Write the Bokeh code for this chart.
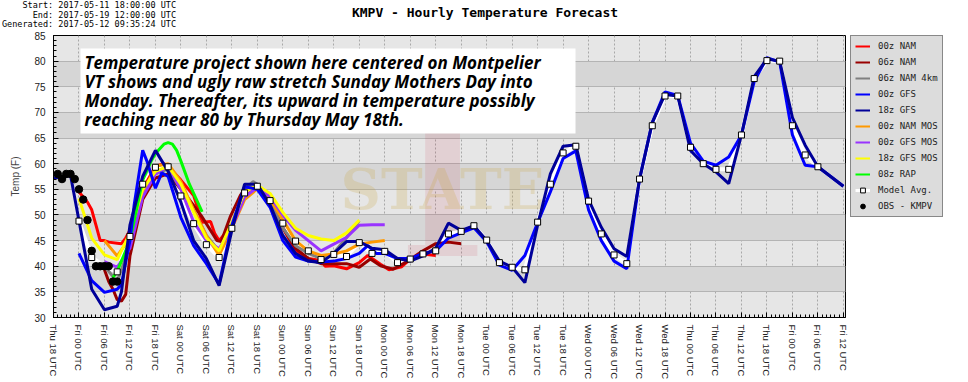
from bokeh.plotting import figure
from bokeh.layouts import column, row
from bokeh.models import Range1d, FixedTicker, Legend, LegendItem, Label, BoxAnnotation, Div
from bokeh.embed import file_html
from bokeh.resources import INLINE

# ---------------- data ----------------
tick_hours = list(range(0, 187, 6))
tick_labels = ["Thu 18 UTC", "Fri 00 UTC", "Fri 06 UTC", "Fri 12 UTC", "Fri 18 UTC",
               "Sat 00 UTC", "Sat 06 UTC", "Sat 12 UTC", "Sat 18 UTC",
               "Sun 00 UTC", "Sun 06 UTC", "Sun 12 UTC", "Sun 18 UTC",
               "Mon 00 UTC", "Mon 06 UTC", "Mon 12 UTC", "Mon 18 UTC",
               "Tue 00 UTC", "Tue 06 UTC", "Tue 12 UTC", "Tue 18 UTC",
               "Wed 00 UTC", "Wed 06 UTC", "Wed 12 UTC", "Wed 18 UTC",
               "Thu 00 UTC", "Thu 06 UTC", "Thu 12 UTC", "Thu 18 UTC",
               "Fri 00 UTC", "Fri 06 UTC", "Fri 12 UTC"]
y_ticks = list(range(30, 86, 5))

nam00_h = [6, 7, 8, 9, 10, 11, 12, 13, 15, 16, 17, 18, 21, 24, 26, 27, 30, 33, 35, 37, 38, 39,
           42, 45, 48, 51, 54, 57, 60, 63, 64, 66, 69, 72, 74, 77, 79, 82, 84, 87, 90]
nam00_t = [54.5, 53.5, 52.5, 51, 48, 45, 45, 44.7, 44.5, 44.4, 45.5, 47, 55, 59.5, 60, 59.5, 56.8, 53.8, 48.6, 48.7, 46.3, 45,
           48, 53.5, 55.5, 52.5, 47.5, 43, 41.5, 41.1, 40, 40.1, 39.5, 40.7, 42.1, 40.4, 39.3, 39.9, 41.4, 42.4, 42.1]

nam06_h = [12, 13, 14, 15, 16, 17, 18, 21, 24, 27, 30, 31.5, 35, 38.5, 39.5, 41.6, 44, 45, 48, 51, 54, 57,
           60, 63, 66, 69, 72, 74.6, 77, 80, 83, 87, 90, 93, 96]
nam06_t = [39.3, 37, 35.5, 33.5, 33.2, 34.5, 42, 53, 57.2, 58, 55, 53.5, 49.6, 45, 44.8, 49.6, 53.8, 55, 55.5, 53, 47.5, 43.5,
           41.5, 40.5, 40.5, 40.5, 39.8, 41.4, 40.1, 39.4, 40.8, 43, 44.4, 44.7, 44.4]

nam4k_h = [12, 15, 18, 21, 24, 27, 30, 33, 36, 39, 42, 45, 47, 48, 51, 54, 57, 60, 63, 66, 69, 72]
nam4k_t = [40, 37, 44, 54, 58, 59, 55, 51, 46, 43, 48, 55, 56.5, 56, 52.5, 47.5, 44, 42.5, 41.5, 42.6, 45.6, 48.9]

gfs00_h = [6, 9, 12, 15, 16, 18, 19, 21, 22, 24, 25.5, 27, 30, 33, 36, 39, 42, 45, 48, 51, 54, 57, 60, 63,
           66, 69, 72, 74, 76, 78, 81, 84, 87, 90, 93, 96, 99, 102, 105, 108, 111, 114, 117, 120, 123,
           126, 129, 132, 135, 138, 141, 144, 147, 150, 153, 156, 159, 162, 165, 168, 171, 174, 177,
           180, 183, 186]
gfs00_t = [42.5, 37.2, 34.9, 35.5, 36.5, 45, 52, 62.6, 60.5, 55.2, 58.2, 57.5, 49.5, 44, 40.5, 36.5, 48, 55.5, 55, 51.5, 45, 41.8, 41, 40.8,
           41, 41.5, 42.5, 44, 42.5, 42.5, 41.5, 41.5, 42.5, 43, 45.5, 46.5, 47.5, 44.8, 40.2, 39.2, 42.1, 48.5, 54.5, 61, 62.5,
           51, 45, 41, 39.5, 57, 68, 74, 73.3, 64, 60.5, 59.7, 61.3, 65.6, 76, 80.7, 79.8, 65.6, 59.7,
           59.4, 57.5, 55.6]

gfs18_h = [0, 3, 4, 9, 12, 15, 16, 18, 21, 24, 27, 30, 33, 36, 39, 42, 45, 48, 51, 54, 57, 60, 63, 66,
           69, 72, 75, 78, 81, 84, 87, 90, 93, 96, 99, 102, 105, 108, 111, 114, 117, 120, 123, 126, 129,
           132, 135, 138, 141, 144, 147, 150, 153, 156, 159, 162, 165, 168, 171, 174, 177, 180, 183, 186]
gfs18_t = [57.2, 57.5, 57.8, 35.5, 31.5, 32.2, 35, 48, 57.5, 62.6, 58.5, 52.5, 45, 41.5, 36.2, 47, 56, 56, 52, 46, 42.5, 41, 40.7, 42.5,
           44.8, 44.8, 43.5, 43.2, 41.5, 41, 42, 43.5, 48.4, 47, 47.9, 45, 41, 39.8, 36.8, 48, 58, 63.4, 63.7, 53, 47.6,
           43.4, 41.9, 57, 68, 73.5, 73.2, 62.6, 60, 58.4, 56.1, 65.6, 77, 80.4, 80, 69, 63.6, 59.4, 57.5, 55.6]

nammos_h = [12, 15, 18, 21, 24, 27, 30, 33, 36, 39, 42, 45, 48, 51, 54, 57, 60, 63, 66, 69, 72, 75, 78]
nammos_t = [45, 42, 45.5, 54, 59.5, 60, 56.5, 51, 46, 42.1, 47.4, 53, 55.1, 53, 49, 45, 43, 42.1, 42.4, 43, 44.3, 44.7, 45]

gfsmos00_h = [12, 15, 18, 21, 24, 27, 30, 33, 36, 39, 42, 45, 48, 51, 54, 57, 60, 63, 66, 69, 72, 75, 78]
gfsmos00_t = [40.9, 39.8, 43.5, 53.5, 58, 59.5, 55, 48.6, 45, 43.4, 47.5, 53.5, 55.4, 53.6, 50, 47, 45, 43, 44.3, 45.6, 48, 48.1, 48.1]

gfsmos18_h = [6, 9, 12, 15, 18, 21, 24, 27, 30, 33, 36, 39, 42, 45, 48, 51, 54, 57, 60, 63, 66, 69, 72]
gfsmos18_t = [53.2, 45.5, 42.2, 41.3, 46.5, 55, 58.5, 59.5, 56, 50.5, 45.5, 43, 48.5, 54.5, 55.8, 54.2, 50.5, 47.4, 46, 45.3, 45, 46.5, 49]

rap08_h = [14, 15, 16, 18, 21, 23, 24, 26, 27, 28, 29, 30, 32, 35]
rap08_t = [37.8, 39, 41, 45, 56.8, 60.5, 62, 63.8, 64.1, 63.8, 62.6, 60.5, 56, 50.6]

avg_h = [6, 9, 12, 15, 18, 21, 24, 27, 30, 33, 36, 39, 42, 45, 48, 51, 54, 57, 60, 63, 66, 69, 72, 75, 78,
         81, 84, 87, 90, 93, 96, 99, 102, 105, 108, 111, 114, 117, 120, 123, 126, 129, 132, 135, 138,
         141, 144, 147, 150, 153, 156, 159, 162, 165, 168, 171, 174, 177, 180]
avg_t = [48.8, 41.7, 40.0, 38.9, 45.8, 56.0, 59.3, 59.4, 53.7, 48.3, 44.2, 41.7, 47.4, 54.3, 55.6, 52.8, 48.4, 44.9, 43.0, 41.3, 42.3, 41.9, 44.6, 42.5, 42.9,
         40.7, 41.4, 42.4, 43.0, 46.3, 46.8, 47.9, 45.1, 40.7, 39.8, 39.3, 48.6, 56.0, 62.1, 63.4, 52.7, 46.3, 42.2, 40.5, 57.0,
         67.4, 73.2, 73.2, 63.2, 60.0, 58.9, 58.9, 65.6, 76.6, 80.1, 80.0, 67.4, 61.7, 59.4]

obs_h = [1, 2, 3, 4, 5, 6, 7, 8, 9, 10, 11, 12, 13, 14, 15]
obs_t = [58, 57, 58, 58, 57, 55, 53, 49, 43, 40, 40, 40, 40, 37, 37]

note_lines = ["Temperature project shown here centered on Montpelier",
              "VT shows and ugly raw stretch Sunday Mothers Day into",
              "Monday. Thereafter, its upward in temperature possibly",
              "reaching near 80 by Thursday May 18th."]

hdr_lines = ["    Start: 2017-05-11 18:00:00 UTC",
             "      End: 2017-05-19 12:00:00 UTC",
             "Generated: 2017-05-12 09:35:24 UTC"]
title_text = "KMPV - Hourly Temperature Forecast"

series_names = ["00z NAM", "06z NAM", "06z NAM 4km", "00z GFS", "18z GFS",
                "00z NAM MOS", "00z GFS MOS", "18z GFS MOS", "08z RAP"]
series_colors = ["#ff0000", "#990000", "#808080", "#0000ff", "#000099",
                 "#ff9900", "#9933ff", "#ffff00", "#00ff00"]

# ---------------- layout constants ----------------
X0, X1, Y0, Y1 = 0, 186.5, 30, 85
W_TOTAL = 968
HDR_H = 30                          # header strip height (page pixels)
FL, FT, FW, FH = 53, 35, 792, 282   # plot frame, in page pixels
PW = 850                            # main figure width
H = 382 - HDR_H

p = figure(width=PW, height=H, output_backend="svg", toolbar_location=None,
           x_range=Range1d(X0, X1), y_range=Range1d(Y0, Y1),
           min_border_left=FL, min_border_right=PW - FL - FW,
           min_border_top=FT - HDR_H, min_border_bottom=H - (FT - HDR_H) - FH)
p.background_fill_color = "#e6e6e6"
p.border_fill_color = "white"
p.outline_line_color = "black"


def dx(px):   # page pixel -> data x
    return X0 + (px - FL) * (X1 - X0) / FW


def dy(py):   # page pixel -> data y
    return Y1 - (py - FT) * (Y1 - Y0) / FH


# grid
p.ygrid.ticker = FixedTicker(ticks=y_ticks)
p.ygrid.grid_line_color = "#b4b4b4"
p.ygrid.band_fill_color = "#d6d6d6"
p.ygrid.band_fill_alpha = 1.0
p.xgrid.ticker = FixedTicker(ticks=tick_hours)
p.xgrid.grid_line_color = "#a8a8a8"
p.xgrid.grid_line_dash = "2 2"

# axes
p.xaxis.ticker = FixedTicker(ticks=tick_hours, minor_ticks=list(range(0, 187)))
p.xaxis.major_label_overrides = {h: l for h, l in zip(tick_hours, tick_labels)}
p.xaxis.major_label_orientation = "vertical"
p.xaxis.major_label_text_font = "Liberation Sans"
p.xaxis.major_label_text_font_size = "9.5px"
p.xaxis.major_label_text_color = "#222222"
p.xaxis.major_label_standoff = 7
p.yaxis.ticker = FixedTicker(ticks=y_ticks, minor_ticks=list(range(30, 86)))
p.yaxis.major_label_text_font = "Liberation Sans"
p.yaxis.major_label_text_font_size = "10px"
p.yaxis.major_label_text_color = "#222222"
p.yaxis.major_label_standoff = 8
p.yaxis.axis_label = "Temp (F)"
p.yaxis.axis_label_text_font = "Liberation Sans"
p.yaxis.axis_label_text_font_size = "10px"
p.yaxis.axis_label_text_font_style = "normal"
p.yaxis.axis_label_standoff = 10
for ax in (p.xaxis, p.yaxis):
    ax.axis_line_color = "black"
    ax.major_tick_in = 5
    ax.major_tick_out = 0
    ax.minor_tick_in = 3
    ax.minor_tick_out = 0
    ax.major_tick_line_color = "black"
    ax.minor_tick_line_color = "black"

# watermark
p.add_layout(Label(x=dx(442), y=dy(190), text="I", text_align="center", text_baseline="middle",
                   text_font="DejaVu Serif", text_font_style="bold", text_font_size="185px",
                   text_color="#c8102e", text_alpha=0.10, level="underlay"))
p.add_layout(Label(x=dx(442), y=dy(188), text="STATE", text_align="center", text_baseline="middle",
                   text_font="DejaVu Serif", text_font_style="bold", text_font_size="56px",
                   text_color="#c9a53a", text_alpha=0.22, level="underlay"))

# model lines
data = {
    "00z NAM": (nam00_h, nam00_t), "06z NAM": (nam06_h, nam06_t),
    "06z NAM 4km": (nam4k_h, nam4k_t), "00z NAM MOS": (nammos_h, nammos_t),
    "00z GFS MOS": (gfsmos00_h, gfsmos00_t), "18z GFS MOS": (gfsmos18_h, gfsmos18_t),
    "08z RAP": (rap08_h, rap08_t), "00z GFS": (gfs00_h, gfs00_t), "18z GFS": (gfs18_h, gfs18_t),
}
color_of = dict(zip(series_names, series_colors))
draw_order = ["00z NAM", "06z NAM", "06z NAM 4km", "00z NAM MOS", "00z GFS MOS",
              "18z GFS MOS", "08z RAP", "00z GFS", "18z GFS"]
p.line(avg_h, avg_t, line_color="white", line_width=4)
for name in draw_order:
    hs, ts = data[name]
    p.line(hs, ts, line_color=color_of[name], line_width=3)
p.scatter(avg_h, avg_t, marker="square", size=6, fill_color="white", line_color="black", line_width=1)
p.scatter(obs_h, obs_t, marker="circle", size=7.5, fill_color="black", line_color="black")

# note box
p.add_layout(BoxAnnotation(left=dx(80), right=dx(575), top=dy(48), bottom=dy(133),
                           fill_color="white", fill_alpha=1.0, line_color=None))
for i, line in enumerate(note_lines):
    p.add_layout(Label(x=dx(84), y=dy(62 + 19 * i), text=line, text_baseline="middle",
                       text_font="Open Sans", text_font_style="bold italic",
                       text_font_size="17px", text_color="black"))

# legend figure (to the right of the plot); its key glyphs reuse the series data,
# drawn outside that figure's visible range so only the legend shows them
LW = W_TOTAL - PW
lf = figure(width=LW, height=H, output_backend="svg", toolbar_location=None,
            x_axis_location=None, y_axis_location=None,
            x_range=Range1d(-1000, -999), y_range=Range1d(-1000, -999),
            min_border_left=0, min_border_right=0, min_border_top=FT - HDR_H, min_border_bottom=0)
lf.grid.visible = False
lf.outline_line_color = None
lf.background_fill_color = "white"
lf.border_fill_color = "white"
items = []
for name in series_names:
    hs, ts = data[name]
    r = lf.line(hs, ts, line_color=color_of[name], line_width=2)
    items.append(LegendItem(label=name, renderers=[r]))
ra = lf.line(avg_h, avg_t, line_color="white", line_width=3)
rs = lf.scatter(avg_h, avg_t, marker="square", size=7, fill_color="white", line_color="black", line_width=1)
items.append(LegendItem(label="Model Avg.", renderers=[ra, rs]))
ro = lf.scatter(obs_h, obs_t, marker="circle", size=8, fill_color="black", line_color="black")
items.append(LegendItem(label="OBS - KMPV", renderers=[ro]))
legend = Legend(items=items, location="top_left")
legend.background_fill_color = "#dcdcdc"
legend.background_fill_alpha = 1.0
legend.border_line_color = "#333333"
legend.label_text_font = "DejaVu Sans Mono"
legend.label_text_font_size = "9px"
legend.label_text_color = "#222222"
legend.glyph_width = 15
legend.glyph_height = 12
legend.label_height = 12
legend.spacing = 4
legend.padding = 4
legend.margin = 0
legend.label_standoff = 8
lf.add_layout(legend)

# header strip (run info + title)
hdr_html = (
    '<div style="position:relative;width:%dpx;height:%dpx;">'
    '<pre style="position:absolute;left:2px;top:1px;margin:0;font-family:\'DejaVu Sans Mono\';'
    'font-size:8.5px;line-height:9.5px;color:black;">%s</pre>'
    '<div style="position:absolute;left:0px;top:6px;width:970px;text-align:center;'
    'font-family:\'DejaVu Sans Mono\';font-weight:bold;font-size:13px;line-height:13px;color:black;">%s</div>'
    '</div>' % (W_TOTAL, HDR_H, "\n".join(hdr_lines), title_text))
hdr = Div(text=hdr_html, width=W_TOTAL, height=HDR_H, margin=0)

page = column(hdr, row(p, lf, spacing=0), spacing=0)
open("out.html", "w").write(file_html(page, INLINE))
